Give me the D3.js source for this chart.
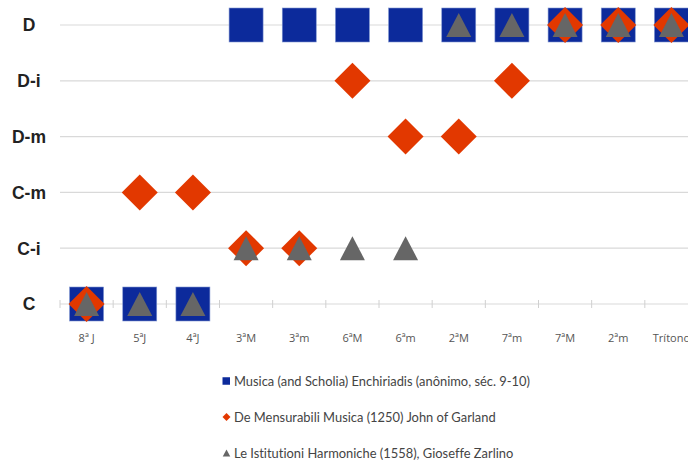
<!DOCTYPE html>
<html>
<head>
<meta charset="utf-8">
<script src="https://cdn.jsdelivr.net/npm/d3@7"></script>
<style>
  html, body { margin: 0; padding: 0; background: #fff; }
  svg { display: block; }
  text { font-variant-ligatures: none; }
</style>
</head>
<body>
<svg id="chart" width="688" height="463"></svg>
<script>
// Interval categories along the x axis
const intervals = ["8ª J", "5ªJ", "4ªJ", "3ªM", "3ªm", "6ªM", "6ªm", "2ªM", "7ªm", "7ªM", "2ªm", "Trítono"];
// Consonance levels on the y axis (bottom to top)
const levels = ["C", "C-i", "C-m", "D-m", "D-i", "D"];

// Musica (and Scholia) Enchiriadis
const enchiriadisIntervals = ["8ª J", "5ªJ", "4ªJ", "3ªM", "3ªm", "6ªM", "6ªm", "2ªM", "7ªm", "7ªM", "2ªm", "Trítono"];
const enchiriadisLevels    = ["C", "C", "C", "D", "D", "D", "D", "D", "D", "D", "D", "D"];

// De Mensurabili Musica, John of Garland
const garlandIntervals = ["8ª J", "5ªJ", "4ªJ", "3ªM", "3ªm", "6ªM", "6ªm", "2ªM", "7ªm", "7ªM", "2ªm", "Trítono"];
const garlandLevels    = ["C", "C-m", "C-m", "C-i", "C-i", "D-i", "D-m", "D-m", "D-i", "D", "D", "D"];

// Le Istitutioni Harmoniche, Gioseffe Zarlino
const zarlinoIntervals = ["8ª J", "5ªJ", "4ªJ", "3ªM", "3ªm", "6ªM", "6ªm", "2ªM", "7ªm", "7ªM", "2ªm", "Trítono"];
const zarlinoLevels    = ["C", "C", "C", "C-i", "C-i", "C-i", "C-i", "D", "D", "D", "D", "D"];

const seriesNames = [
  "Musica (and Scholia) Enchiriadis (anônimo, séc. 9-10)",
  "De Mensurabili Musica (1250) John of Garland",
  "Le Istitutioni Harmoniche (1558), Gioseffe Zarlino"
];

const colors = { square: "#0c2a9b", diamond: "#e23800", triangle: "#666666" };

const svg = d3.select("#chart");
const x = d3.scaleBand().domain(intervals).range([60, 698]).padding(0);
const y = d3.scalePoint().domain(levels).range([304, 25]);

// Horizontal gridlines, one per level
svg.append("g")
  .selectAll("line")
  .data(levels)
  .join("line")
  .attr("x1", 60).attr("x2", 698)
  .attr("y1", d => y(d)).attr("y2", d => y(d))
  .attr("stroke", "#d9d9d9").attr("stroke-width", 1.2);

// Category boundary tick marks on the base line
svg.append("g")
  .selectAll("line")
  .data(intervals)
  .join("line")
  .attr("x1", d => x(d)).attr("x2", d => x(d))
  .attr("y1", y("C") - 4).attr("y2", y("C") + 4)
  .attr("stroke", "#d0d0d0").attr("stroke-width", 1);

// X axis labels
const xAxis = d3.axisBottom(x).tickSize(0).tickPadding(30);
const gx = svg.append("g").attr("transform", `translate(0,${y("C")})`).call(xAxis);
gx.select(".domain").remove();
gx.selectAll("text")
  .attr("font-family", "'Open Sans', sans-serif")
  .attr("font-size", 11)
  .attr("fill", "#555");

// Y axis labels
svg.append("g")
  .selectAll("text")
  .data(levels)
  .join("text")
  .attr("x", 29)
  .attr("y", d => y(d))
  .attr("dy", "0.36em")
  .attr("text-anchor", "middle")
  .attr("font-family", "'Liberation Sans', Arial, sans-serif")
  .attr("font-weight", "bold")
  .attr("font-size", 17.5)
  .attr("fill", "#222")
  .text(d => d);

const cx = d => x(d) + x.bandwidth() / 2;

// Squares
const sq = 34;
svg.append("g")
  .selectAll("rect")
  .data(d3.zip(enchiriadisIntervals, enchiriadisLevels))
  .join("rect")
  .attr("x", d => cx(d[0]) - sq / 2)
  .attr("y", d => y(d[1]) - sq / 2)
  .attr("width", sq).attr("height", sq)
  .attr("fill", colors.square)
  .attr("stroke", "#7f95d0").attr("stroke-width", 0.6);

// Diamonds
const dh = 18;
const diamondPath = (px, py, r) => `M${px},${py - r}L${px + r},${py}L${px},${py + r}L${px - r},${py}Z`;
svg.append("g")
  .selectAll("path")
  .data(d3.zip(garlandIntervals, garlandLevels))
  .join("path")
  .attr("d", d => diamondPath(cx(d[0]), y(d[1]), dh))
  .attr("fill", colors.diamond);

// Triangles
const triPath = (px, py, w, h) => `M${px},${py - h / 2}L${px + w / 2},${py + h / 2}L${px - w / 2},${py + h / 2}Z`;
svg.append("g")
  .selectAll("path")
  .data(d3.zip(zarlinoIntervals, zarlinoLevels))
  .join("path")
  .attr("d", d => triPath(cx(d[0]), y(d[1]), 25, 24))
  .attr("fill", colors.triangle);

// Legend
const legendY = [381, 417, 453];
const lg = svg.append("g");
lg.append("rect").attr("x", 222.5).attr("y", legendY[0] - 3.75).attr("width", 7.5).attr("height", 7.5).attr("fill", colors.square);
lg.append("path").attr("d", diamondPath(226.5, legendY[1], 4)).attr("fill", colors.diamond);
lg.append("path").attr("d", triPath(226.5, legendY[2], 7.5, 7)).attr("fill", colors.triangle);
lg.selectAll("text")
  .data(seriesNames)
  .join("text")
  .attr("x", 234)
  .attr("y", (d, i) => legendY[i])
  .attr("dy", "0.35em")
  .attr("font-family", "Lato, sans-serif")
  .attr("font-size", 12.9)
  .attr("fill", "#444")
  .text(d => d);
</script>
</body>
</html>
